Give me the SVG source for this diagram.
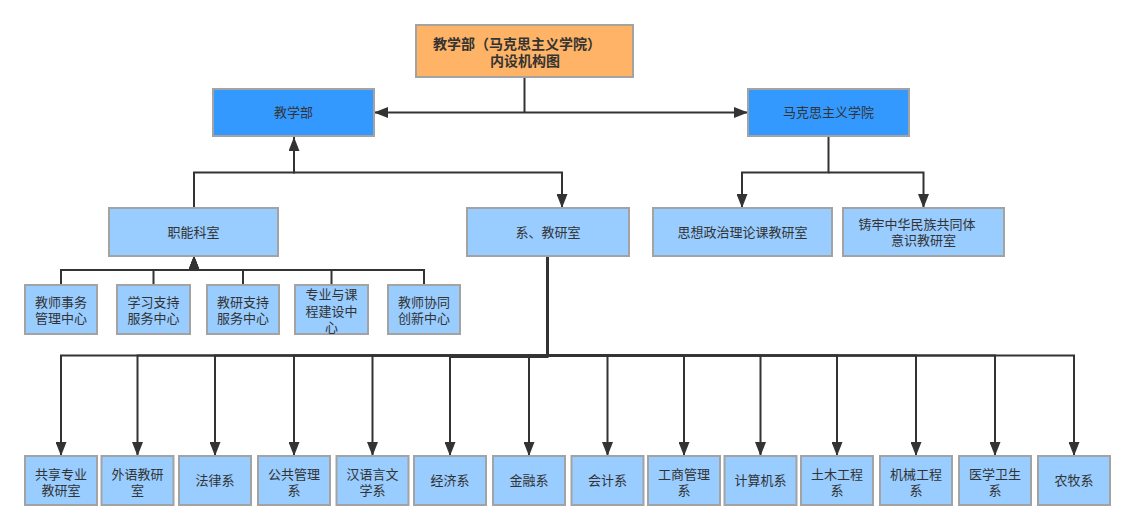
<svg xmlns="http://www.w3.org/2000/svg" width="1135" height="530" viewBox="0 0 1135 530">
<defs>
<style>
.box{stroke:#A3A3A3;stroke-width:2}
.t{fill:#FFB366}
.b{fill:#3399FF}
.l{fill:#99CCFF}
text{font-family:"Noto Sans CJK SC","Noto Sans",sans-serif;font-size:13px;fill:#333333;text-anchor:middle}
.title{font-size:14px;font-weight:bold}
.c{fill:none;stroke:#333333;stroke-width:2}
</style>
<marker id="arr" markerUnits="userSpaceOnUse" markerWidth="14" markerHeight="11" refX="14" refY="5.5" orient="auto-start-reverse" viewBox="0 0 14 11">
<path d="M0,0 L14,5.5 L0,11 Z" fill="#333333"/>
</marker>
</defs>
<rect width="1135" height="530" fill="#FFFFFF"/>

<g id="connectors">
<path class="c" d="M524.5 78 V112.5"/>
<path class="c" d="M748 112.5 H374" marker-start="url(#arr)" marker-end="url(#arr)"/>
<path class="c" d="M194 208 V172.5 H294 V137" marker-end="url(#arr)"/>
<path class="c" d="M294 137 V172.5 H562 V208" marker-end="url(#arr)"/>
<path class="c" d="M828.5 137 V172.5 H742 V208" marker-end="url(#arr)"/>
<path class="c" d="M828.5 172.5 H923.5 V208" marker-end="url(#arr)"/>
<path class="c" d="M61 285 V270 H194 V256" marker-end="url(#arr)"/>
<path class="c" d="M153.5 285 V270 H194 V256" marker-end="url(#arr)"/>
<path class="c" d="M243 285 V270 H194 V256" marker-end="url(#arr)"/>
<path class="c" d="M331.5 285 V270 H194 V256" marker-end="url(#arr)"/>
<path class="c" d="M424 285 V270 H194 V256" marker-end="url(#arr)"/>
<path class="c" d="M547.5 256 V355.5 H61 V456" marker-end="url(#arr)"/>
<path class="c" d="M547.5 256 V355.5 H137.5 V456" marker-end="url(#arr)"/>
<path class="c" d="M547.5 256 V355.5 H215 V456" marker-end="url(#arr)"/>
<path class="c" d="M547.5 256 V355.5 H294 V456" marker-end="url(#arr)"/>
<path class="c" d="M547.5 256 V355.5 H372.5 V456" marker-end="url(#arr)"/>
<path class="c" d="M547.5 256 V357 H450 V456" marker-end="url(#arr)"/>
<path class="c" d="M547.5 256 V355.5 H529 V456" marker-end="url(#arr)"/>
<path class="c" d="M547.5 256 V355.5 H607.5 V456" marker-end="url(#arr)"/>
<path class="c" d="M547.5 256 V355.5 H684 V456" marker-end="url(#arr)"/>
<path class="c" d="M547.5 256 V355.5 H760.5 V456" marker-end="url(#arr)"/>
<path class="c" d="M547.5 256 V355.5 H837 V456" marker-end="url(#arr)"/>
<path class="c" d="M547.5 256 V355.5 H916 V456" marker-end="url(#arr)"/>
<path class="c" d="M547.5 256 V355.5 H995 V456" marker-end="url(#arr)"/>
<path class="c" d="M547.5 256 V355.5 H1074 V456" marker-end="url(#arr)"/>
</g>

<g id="n-title"><rect class="box t" x="416" y="25" width="217" height="52"/><text class="title" x="517" y="49">教学部（马克思主义学院）<tspan x="525" dy="16.5">内设机构图</tspan></text></g>
<g id="n-jxb"><rect class="box b" x="213" y="89" width="161" height="47"/><text x="293.5" y="117">教学部</text></g>
<g id="n-mky"><rect class="box b" x="748" y="89" width="161" height="47"/><text x="828.5" y="117">马克思主义学院</text></g>
<g id="n-znks"><rect class="box l" x="109" y="208" width="169" height="48"/><text x="193.5" y="236.8">职能科室</text></g>
<g id="n-xjys"><rect class="box l" x="467" y="208" width="162" height="48"/><text x="548" y="236.8">系、教研室</text></g>
<g id="n-szzz"><rect class="box l" x="653" y="208" width="179" height="48"/><text x="742.5" y="236.8">思想政治理论课教研室</text></g>
<g id="n-zlzh"><rect class="box l" x="843" y="208" width="161" height="48"/><text x="917" y="228.5">铸牢中华民族共同体<tspan x="923.5" dy="16">意识教研室</tspan></text></g>

<g id="n-jssw"><rect class="box l" x="25" y="285" width="72" height="49"/><text x="61" y="307">教师事务<tspan x="61" dy="16">管理中心</tspan></text></g>
<g id="n-xxzc"><rect class="box l" x="117" y="285" width="73" height="49"/><text x="153.5" y="307">学习支持<tspan x="153.5" dy="16">服务中心</tspan></text></g>
<g id="n-jyzc"><rect class="box l" x="207" y="285" width="72" height="49"/><text x="243" y="307">教研支持<tspan x="243" dy="16">服务中心</tspan></text></g>
<g id="n-zykc"><rect class="box l" x="295" y="285" width="73" height="49"/><text x="331.5" y="299">专业与课<tspan x="331.5" dy="16.5">程建设中</tspan><tspan x="331.5" dy="16.5">心</tspan></text></g>
<g id="n-jsxt"><rect class="box l" x="388" y="285" width="72" height="49"/><text x="424" y="307">教师协同<tspan x="424" dy="16">创新中心</tspan></text></g>

<g id="n-gxzy"><rect class="box l" x="25" y="456" width="72" height="49"/><text x="61" y="478.8">共享专业<tspan x="61" dy="16">教研室</tspan></text></g>
<g id="n-wy"><rect class="box l" x="101.5" y="456" width="72" height="49"/><text x="137.5" y="478.8">外语教研<tspan x="137.5" dy="16">室</tspan></text></g>
<g id="n-fl"><rect class="box l" x="179" y="456" width="72" height="49"/><text x="215" y="485.3">法律系</text></g>
<g id="n-gggl"><rect class="box l" x="258" y="456" width="72" height="49"/><text x="294" y="478.8">公共管理<tspan x="294" dy="16">系</tspan></text></g>
<g id="n-hy"><rect class="box l" x="336.5" y="456" width="72" height="49"/><text x="372.5" y="478.8">汉语言文<tspan x="372.5" dy="16">学系</tspan></text></g>
<g id="n-jj"><rect class="box l" x="414" y="456" width="72" height="49"/><text x="450" y="485.3">经济系</text></g>
<g id="n-jr"><rect class="box l" x="493" y="456" width="72" height="49"/><text x="529" y="485.3">金融系</text></g>
<g id="n-kj"><rect class="box l" x="571.5" y="456" width="72" height="49"/><text x="607.5" y="485.3">会计系</text></g>
<g id="n-gs"><rect class="box l" x="648" y="456" width="72" height="49"/><text x="684" y="478.8">工商管理<tspan x="684" dy="16">系</tspan></text></g>
<g id="n-jsj"><rect class="box l" x="724.5" y="456" width="72" height="49"/><text x="760.5" y="485.3">计算机系</text></g>
<g id="n-tm"><rect class="box l" x="801" y="456" width="72" height="49"/><text x="837" y="478.8">土木工程<tspan x="837" dy="16">系</tspan></text></g>
<g id="n-jx"><rect class="box l" x="880" y="456" width="72" height="49"/><text x="916" y="478.8">机械工程<tspan x="916" dy="16">系</tspan></text></g>
<g id="n-yx"><rect class="box l" x="959" y="456" width="72" height="49"/><text x="995" y="478.8">医学卫生<tspan x="995" dy="16">系</tspan></text></g>
<g id="n-nm"><rect class="box l" x="1038" y="456" width="72" height="49"/><text x="1074" y="485.3">农牧系</text></g>
</svg>
